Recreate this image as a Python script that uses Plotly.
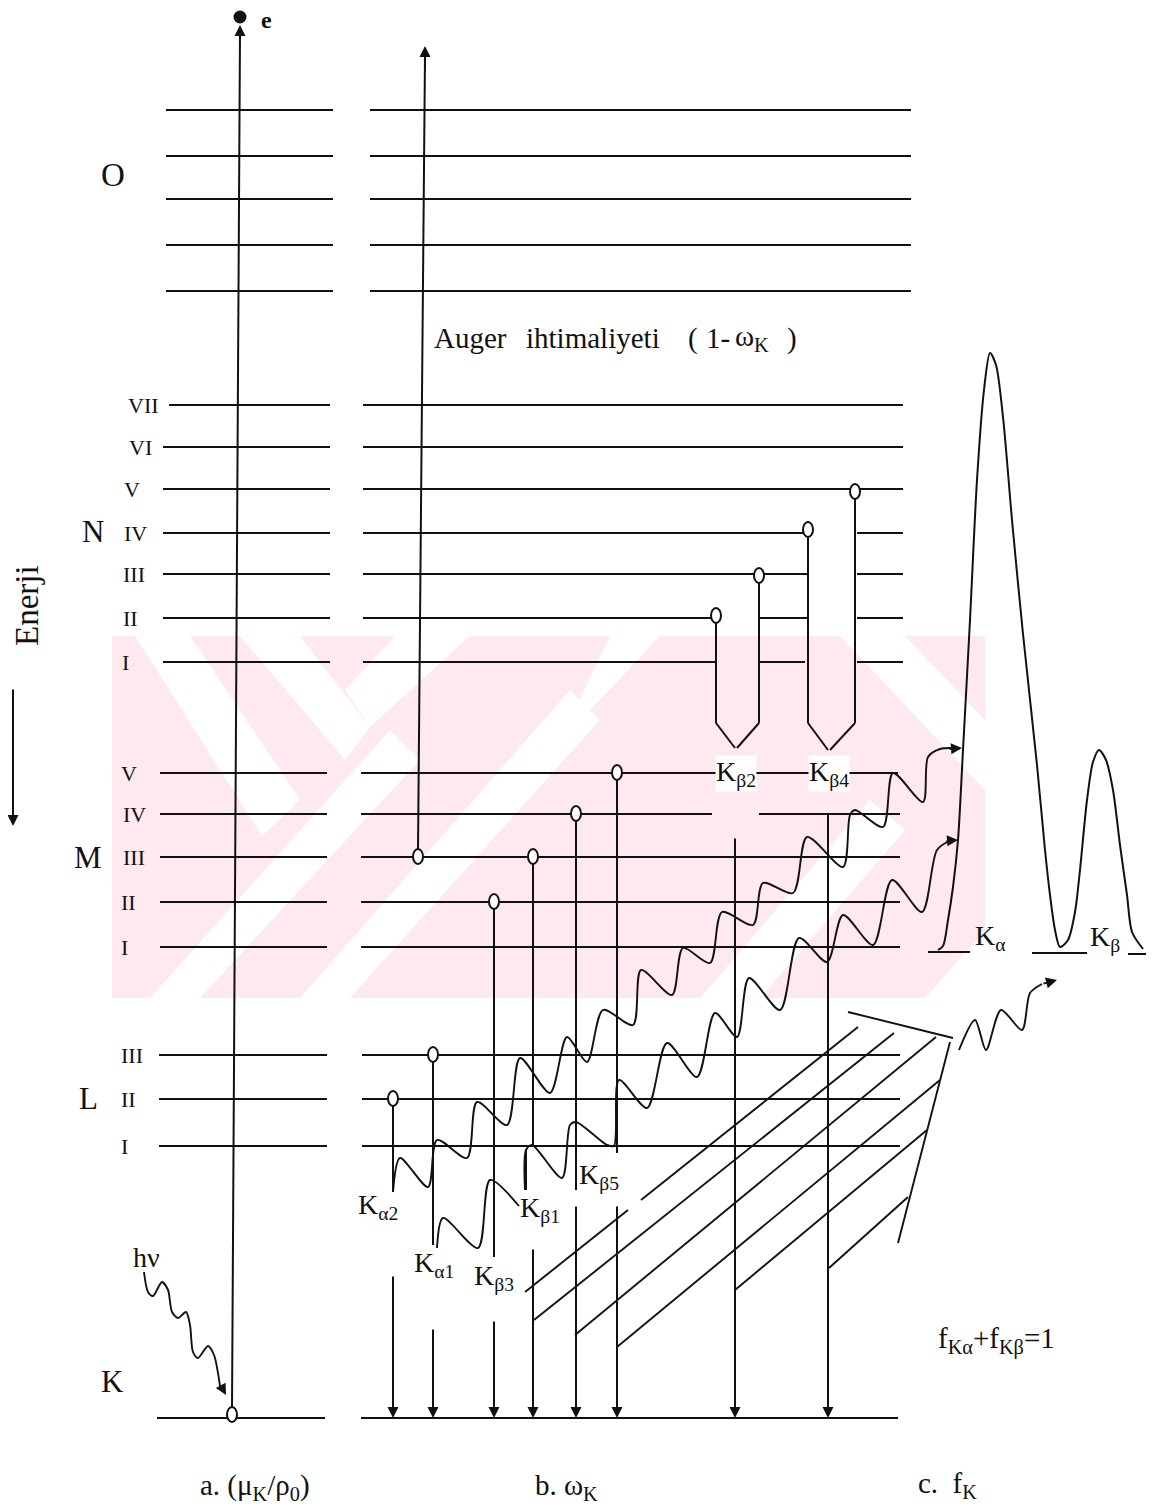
import plotly.graph_objects as go

W, H = 1154, 1511
OFF = 8  # page body margin of the html page
FONT = "Liberation Serif, Times New Roman, serif"
INK = "#111111"

# ---------------- data (pixel units) ----------------
O_y = [110, 156, 199, 245, 291]
N_sub = ["VII", "VI", "V", "IV", "III", "II", "I"]
N_y = [405, 447, 489, 533, 574, 618, 662]
M_sub = ["V", "IV", "III", "II", "I"]
M_y = [773, 814, 857, 902, 947]
L_sub = ["III", "II", "I"]
L_y = [1055, 1099, 1146]
K_y = [1418]

# transitions to K (x position, origin level y, bottom of upper segment)
tr_x = [393, 433, 494, 533, 576, 617]
tr_from = [1099, 1055, 902, 857, 814, 773]
tr_seg_bot = [1192, 1245, 1257, 1145, 1190, 1153]
tr_labels = ["K<sub>α2</sub>", "K<sub>α1</sub>", "K<sub>β3</sub>", "K<sub>β1</sub>", "K<sub>β5</sub>"]
tr_label_pos = [(378, 1206), (434, 1264), (494, 1277), (540, 1209), (599, 1176)]

# arrows ending on K level
arr_x = [393, 433, 494, 533, 576, 617, 735, 828]
arr_top = [1275, 1328, 1320, 1248, 1205, 1205, 837, 813]

# N-shell pairs (K-beta2, K-beta4)
nb_left_x = [716, 808]
nb_right_x = [759, 855]
nb_left_y = [618, 533]
nb_right_y = [574, 489]
nb_tip = [(736, 748), (829, 750)]
nb_labels = ["K<sub>β2</sub>", "K<sub>β4</sub>"]

# photon squiggles (points read along each wave)
wave_upper_x = [393, 400, 428, 437, 467, 477, 507, 520, 550, 567, 587, 603, 633, 641, 672, 683, 710, 722,
                753, 763, 793, 807, 843, 850, 855, 883, 893, 923, 928, 940, 955]
wave_upper_y = [1192, 1158, 1187, 1140, 1158, 1102, 1125, 1058, 1093, 1037, 1062, 1010, 1025, 970, 995, 948,
                963, 912, 925, 883, 893, 837, 867, 815, 810, 827, 773, 802, 757, 749, 748]
wave_lower_x = [525, 526, 532, 562, 570, 576, 607, 614, 619, 647, 667, 697, 715, 737, 749, 780, 799, 827,
                843, 873, 892, 922, 937, 951]
wave_lower_y = [1190, 1150, 1145, 1178, 1125, 1122, 1145, 1146, 1080, 1108, 1043, 1077, 1013, 1037, 978,
                1010, 938, 962, 915, 945, 880, 912, 850, 840]
wave_a_x = [437, 443, 478, 490, 519]
wave_a_y = [1248, 1218, 1248, 1180, 1206]
wave_c_x = [959, 975, 986, 1001, 1022, 1030, 1042]
wave_c_y = [1050, 1020, 1050, 1010, 1030, 993, 984]
hv_x = [144, 148, 153, 162, 168, 172, 178, 186, 190, 193, 198, 208, 214, 220]
hv_y = [1272, 1292, 1296, 1282, 1290, 1312, 1318, 1312, 1325, 1352, 1358, 1346, 1355, 1386]

# hatch lines (start, end)
hatch = [((525, 1292), (628, 1210)), ((641, 1200), (858, 1027)),
         ((534, 1320), (894, 1033)), ((575, 1335), (936, 1037)),
         ((617, 1347), (940, 1080)), ((735, 1290), (927, 1130)),
         ((829, 1268), (908, 1197)),
         ((848, 1012), (953, 1038)), ((950, 1042), (898, 1243))]

# K spectrum (K-alpha, K-beta peaks)
spec_x = [938, 943, 948, 953, 958, 963, 970, 977, 984, 990, 996, 1003, 1012, 1023, 1037, 1045, 1050, 1055,
          1060, 1068, 1075, 1080, 1087, 1093, 1099, 1106, 1113, 1120, 1127, 1132, 1143]
spec_y = [950, 946, 920, 887, 840, 750, 620, 480, 390, 353, 365, 417, 520, 634, 765, 850, 895, 930,
          947, 940, 912, 870, 800, 762, 750, 760, 790, 845, 895, 932, 949]

fig = go.Figure()


def polyline(xs, ys, width=2.0, shape="linear"):
    fig.add_trace(go.Scatter(x=xs, y=ys, mode="lines", hoverinfo="skip",
                             line=dict(color=INK, width=width, shape=shape, smoothing=0.8)))


def segs(list_of_segments, width=2.0):
    xs, ys = [], []
    for (x0, y0), (x1, y1) in list_of_segments:
        xs += [x0, x1, None]
        ys += [y0, y1, None]
    polyline(xs, ys, width)


# ---------------- watermark (faint) ----------------
wm_col = "rgba(246,170,188,0.26)"
fig.add_shape(type="rect", x0=112, x1=985, y0=636, y1=998, fillcolor=wm_col, line_width=0, layer="below")
white_stripes = [
    [(135, 636), (190, 636), (300, 800), (262, 836)],
    [(240, 636), (300, 636), (370, 727), (345, 760)],
    [(395, 636), (470, 636), (370, 727), (345, 690)],
    [(150, 998), (200, 998), (420, 760), (390, 730)],
    [(300, 998), (350, 998), (600, 720), (570, 690)],
    [(560, 740), (600, 700), (660, 636), (610, 636)],
    [(700, 998), (760, 998), (905, 830), (870, 800)],
    [(840, 636), (905, 636), (985, 720), (985, 790)],
    [(925, 998), (985, 998), (985, 930)],
]
for poly in white_stripes:
    path = "M " + " L ".join(f"{x},{y}" for x, y in poly) + " Z"
    fig.add_shape(type="path", path=path, fillcolor="white", line_width=0, layer="below")

# ---------------- level lines ----------------
left_lines = []
for y in O_y:
    left_lines.append(((166, y), (333, y)))
for i, y in enumerate(N_y):
    left_lines.append(((169 if i == 0 else 163, y), (330, y)))
for y in M_y:
    left_lines.append(((160, y), (327, y)))
for y in L_y:
    left_lines.append(((159, y), (327, y)))
left_lines.append(((157, K_y[0]), (325, K_y[0])))
segs(left_lines)

right_lines = []
for y in O_y:
    right_lines.append(((370, y), (911, y)))
# N lines with gaps inside the K-beta2/K-beta4 loops
N_right = {
    405: [(363, 903)], 447: [(363, 903)], 489: [(363, 903)],
    533: [(363, 808), (857, 903)], 574: [(363, 808), (857, 903)],
    618: [(363, 716), (759, 808), (857, 903)], 662: [(363, 716), (760, 805), (857, 903)],
}
for y in N_y:
    for a, b in N_right[y]:
        right_lines.append(((a, y), (b, y)))
for y in M_y:
    if y == 814:
        right_lines += [((361, y), (712, y)), ((759, y), (900, y))]
    elif y == 773:
        right_lines.append(((361, y), (898, y)))
    else:
        right_lines.append(((361, y), (900, y)))
for y in L_y:
    right_lines.append(((362, y), (900, y)))
right_lines.append(((361, K_y[0]), (898, K_y[0])))
segs(right_lines)

# ---------------- vertical transitions ----------------
verts = [((232, 1410), (240, 32)),       # photo-electron
         ((418, 850), (425, 55))]        # Auger
for x, y0, y1 in zip(tr_x, tr_from, tr_seg_bot):
    verts.append(((x, y0), (x, y1)))
verts.append(((526, 1150), (526, 1190)))
for lx, rx, ly, ry, (tx, ty) in zip(nb_left_x, nb_right_x, nb_left_y, nb_right_y, nb_tip):
    verts += [((lx, ly), (lx, 723)), ((rx, ry), (rx, 723)),
              ((lx, 723), (tx - 1, ty)), ((rx, 723), (tx + 1, ty))]
segs(verts)

# hatch
segs(hatch, width=1.9)

# photons
polyline(wave_upper_x, wave_upper_y, 1.9, "spline")
polyline(wave_lower_x, wave_lower_y, 1.9, "spline")
polyline(wave_a_x, wave_a_y, 1.9, "spline")
polyline(wave_c_x, wave_c_y, 1.9, "spline")
polyline(hv_x, hv_y, 1.9, "spline")

# spectrum
polyline(spec_x, spec_y, 2.0, "spline")
segs([((928, 952), (970, 952)), ((1032, 953), (1087, 953)), ((1128, 954), (1152, 954))])

# photo-electron dot
fig.add_trace(go.Scatter(x=[240], y=[17], mode="markers", hoverinfo="skip",
                         marker=dict(color=INK, size=13, line_width=0)))

# ---------------- open circles (vacancies) ----------------
circles = [(x, y) for x, y in zip(tr_x, tr_from)]
circles += [(418, 857), (716, 616), (759, 576), (808, 530), (855, 492), (232, 1415)]
for x, y in circles:
    fig.add_shape(type="circle", x0=x - 5, x1=x + 5, y0=y - 8, y1=y + 7,
                  fillcolor="white", line=dict(color=INK, width=2), layer="above")

annotations = []


def arrow(x, y, ax, ay, head=2):
    annotations.append(dict(x=x, y=y, ax=ax, ay=ay, xref="x", yref="y", axref="x", ayref="y",
                            text="", showarrow=True, arrowhead=head, arrowsize=1.1,
                            arrowwidth=2, arrowcolor=INK, standoff=0))


for x, top in zip(arr_x, arr_top):
    arrow(x, K_y[0], x, top)
arrow(240, 25, 240, 42)
arrow(425, 46, 425, 70)
arrow(962, 748, 948, 749)
arrow(958, 840, 945, 841)
arrow(1057, 980, 1042, 984)
arrow(226, 1395, 220, 1384)
arrow(13, 826, 13, 688)


def text(x, y, s, size=22, anchor="center", bg=None, angle=0):
    d = dict(x=x, y=y, xref="x", yref="y", text=s, showarrow=False, xanchor=anchor, yanchor="middle",
             font=dict(family=FONT, size=size, color=INK), textangle=angle)
    if bg:
        d.update(bgcolor=bg, borderpad=0)
    annotations.append(d)


text(266, 20, "<b>e</b>", 24)
text(113, 175, "O", 33)
for s, y, xc in zip(N_sub, N_y, [143, 140, 132, 135, 134, 130, 125]):
    text(xc, y, s, 22)
text(93, 531, "N", 31)
for s, y, xc in zip(M_sub, M_y, [129, 134, 134, 128, 124]):
    text(xc, y, s, 22)
text(88, 857, "M", 31)
for s, y, xc in zip(L_sub, L_y, [132, 128, 124]):
    text(xc, y, s, 22)
text(88, 1098, "L", 31)
text(112, 1381, "K", 31)
text(146, 1257, "hν", 28)
text(27, 606, "Enerji", 33, angle=-90)
# Auger text, piece by piece (wide spacing in the original)
text(432, 338, "Auger", 29, anchor="left")
text(524, 338, "ihtimaliyeti", 29, anchor="left")
text(686, 338, "(", 29, anchor="left")
text(704, 338, "1-", 29, anchor="left")
text(733, 338, "ω<sub>K</sub>", 29, anchor="left")
text(785, 338, ")", 29, anchor="left")
for s, (x, y) in zip(tr_labels, tr_label_pos):
    text(x, y, s, 28)
for s, (tx, ty) in zip(nb_labels, nb_tip):
    text(tx, 773, s, 28, bg="white")
text(990, 937, "K<sub>α</sub>", 28)
text(1105, 938, "K<sub>β</sub>", 28)
text(996, 1340, "f<sub>Kα</sub>+f<sub>Kβ</sub>=1", 29)
text(255, 1487, "a. (μ<sub>K</sub>/ρ<sub>0</sub>)", 29)
text(566, 1487, "b. ω<sub>K</sub>", 29)
text(947, 1485, "c.&nbsp;&nbsp;f<sub>K</sub>", 29)

fig.update_layout(
    width=W - OFF, height=H - OFF, margin=dict(l=0, r=0, t=0, b=0),
    paper_bgcolor="white", plot_bgcolor="white", showlegend=False,
    xaxis=dict(range=[OFF, W], visible=False, fixedrange=True),
    yaxis=dict(range=[H, OFF], visible=False, fixedrange=True),
    annotations=annotations,
)

fig.write_html("out.html")
